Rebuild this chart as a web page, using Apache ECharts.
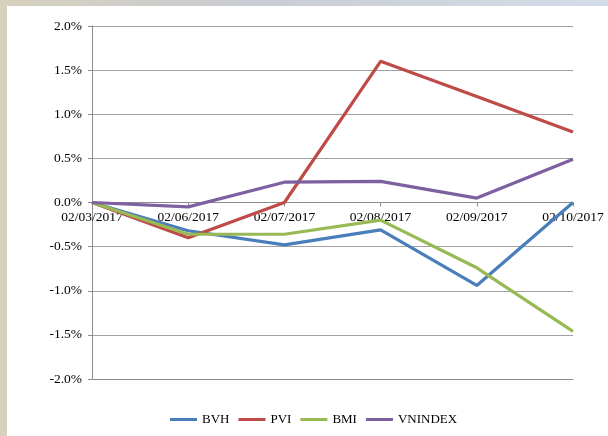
<!DOCTYPE html>
<html>
<head>
    <meta charset="utf-8">
    <title>BVH PVI BMI VNINDEX</title>
    <script src="https://cdn.jsdelivr.net/npm/echarts@6/dist/echarts.min.js"></script>
    <style>
        body { margin: 0; width: 608px; height: 436px; overflow: hidden;
               background: linear-gradient(90deg, #d6d0bd 0%, #c9ccd2 40%, #d3dde8 100%); }
        #chart { position: absolute; left: 7px; top: 6px; width: 601px; height: 430px; background: #fff; }
    </style>
</head>
<body>
<div id="chart"></div>
<script>
    // dates on the x axis
    var dates = ['02/03/2017', '02/06/2017', '02/07/2017', '02/08/2017', '02/09/2017', '02/10/2017'];
    // daily change in %
    var bvh = [0, -0.32, -0.48, -0.31, -0.94, 0.0];
    var pvi = [0, -0.40, 0.0, 1.60, 1.20, 0.80];
    var bmi = [0, -0.36, -0.36, -0.20, -0.74, -1.46];
    var vnindex = [0, -0.05, 0.23, 0.24, 0.05, 0.49];

    var names = ['BVH', 'PVI', 'BMI', 'VNINDEX'];
    var colors = ['#4a7ebb', '#be4b48', '#98b954', '#7d60a0'];
    var values = [bvh, pvi, bmi, vnindex];

    var font = 'Liberation Serif, Times New Roman, serif';
    var myChart = echarts.init(document.getElementById('chart'));

    var gridTop = 20, gridBottom = 57;
    var plotH = 430 - gridTop - gridBottom;

    var series = names.map(function (n, i) {
        return {
            name: n,
            type: 'line',
            data: values[i],
            symbol: 'none',
            lineStyle: { width: 3.2, color: colors[i] },
            itemStyle: { color: colors[i] }
        };
    });

    var option = {
        animation: false,
        grid: { left: 85, right: 35, top: gridTop, bottom: gridBottom },
        legend: {
            data: names,
            bottom: 5,
            left: 158,
            icon: 'rect',
            itemWidth: 27,
            itemHeight: 3,
            itemGap: 9,
            textStyle: { fontFamily: font, fontSize: 13, color: '#000' }
        },
        xAxis: [{
            type: 'category',
            data: dates,
            boundaryGap: false,
            // axis sits on the 0% line (middle of -2..2)
            offset: -plotH / 2,
            axisLine: { onZero: false, lineStyle: { color: '#8c8c8c' } },
            axisTick: { alignWithLabel: true, length: 4, lineStyle: { color: '#8c8c8c' } },
            axisLabel: { fontFamily: font, fontSize: 13.5, color: '#000', margin: 8, interval: 0 }
        }, {
            // plain bottom border at -2.0%
            type: 'category',
            data: dates,
            position: 'bottom',
            boundaryGap: false,
            axisLine: { onZero: false, lineStyle: { color: '#8c8c8c' } },
            axisTick: { show: false },
            axisLabel: { show: false }
        }],
        yAxis: {
            type: 'value',
            min: -2,
            max: 2,
            interval: 0.5,
            axisLine: { show: true, lineStyle: { color: '#8c8c8c' } },
            axisTick: { show: true, length: 4, lineStyle: { color: '#8c8c8c' } },
            splitLine: { lineStyle: { color: '#a0a0a0' } },
            axisLabel: {
                fontFamily: font, fontSize: 13.5, color: '#000', margin: 10,
                formatter: function (v) { return v.toFixed(1) + '%'; }
            }
        },
        series: series
    };

    myChart.setOption(option);
</script>
</body>
</html>
